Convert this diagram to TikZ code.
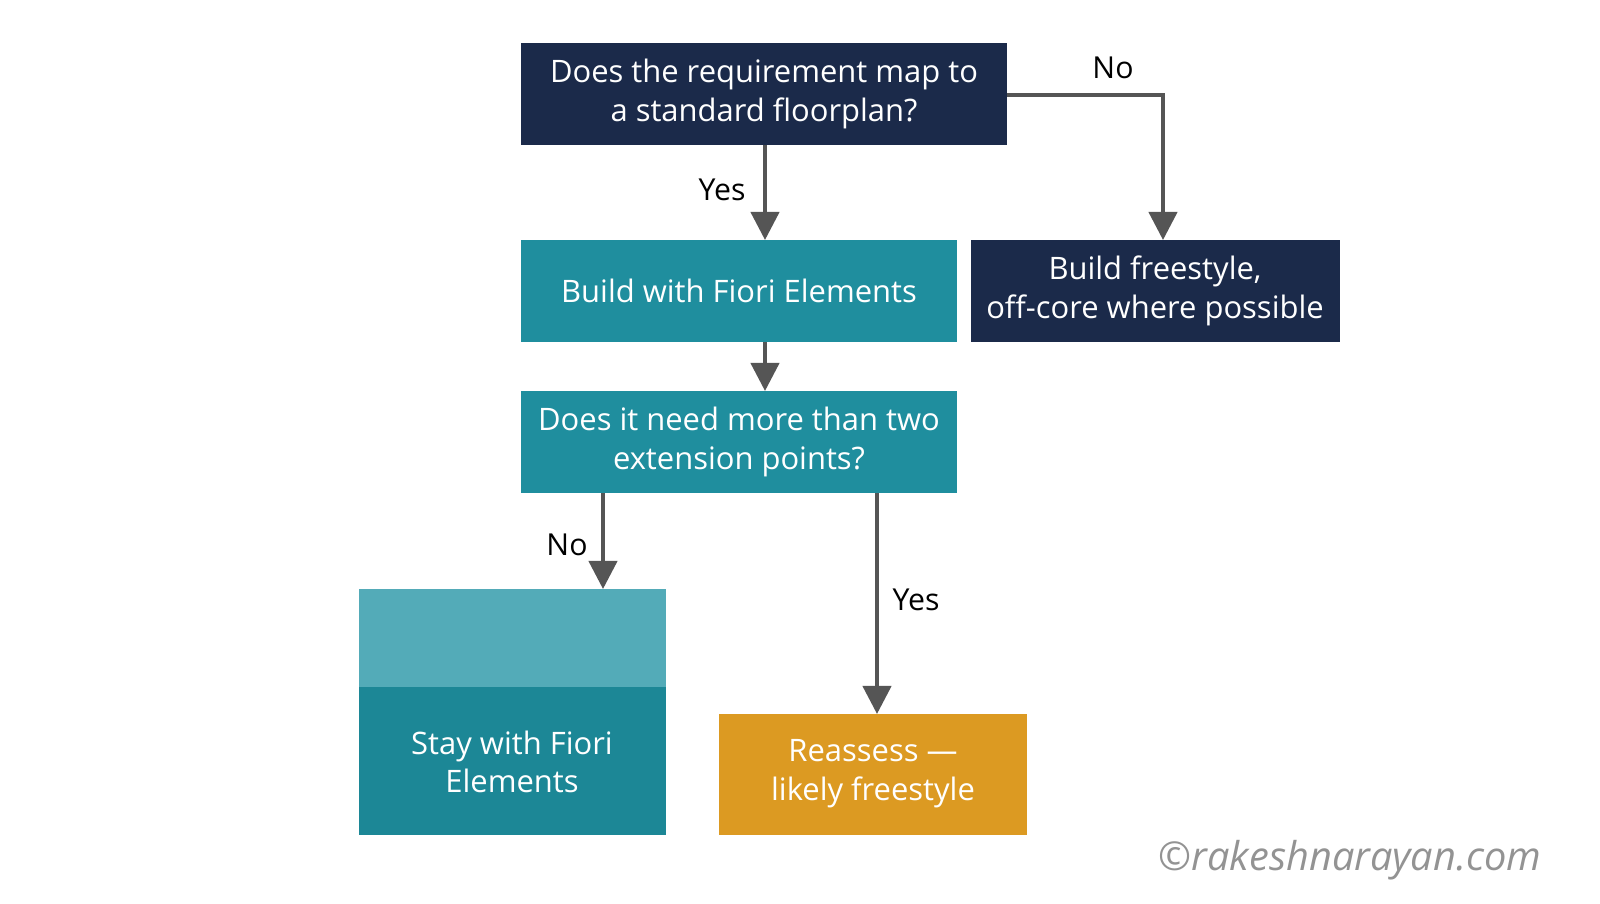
\documentclass[tikz,border=0pt]{standalone}
\usepackage{fontspec}
\setmainfont{Open Sans}
\usetikzlibrary{arrows.meta}
\definecolor{navy}{HTML}{1B2A4A}
\definecolor{teal}{HTML}{1F8E9E}
\definecolor{teallight}{HTML}{53ABB8}
\definecolor{tealdark}{HTML}{1C8796}
\definecolor{orng}{HTML}{DC9A22}
\definecolor{arr}{HTML}{555555}
\begin{document}
\begin{tikzpicture}[x=0.01cm,y=-0.01cm,
  box/.style={draw=none,inner sep=0,align=center,text=white,font=\fontsize{8.8}{11}\selectfont},
  conn/.style={draw=arr,line width=1.2pt,-{Triangle[length=8pt,width=8pt]}},
  lab/.style={font=\fontsize{8.6}{11}\selectfont,text=black}]
\useasboundingbox (0,0) rectangle (1600,903);
\fill[white] (0,0) rectangle (1600,903);
\fill[navy] (521,43) rectangle (1007,145);
\node[box] (q1) at (764,94) {Does the requirement map to\\a standard floorplan?};
\fill[teal] (521,240) rectangle (957,342);
\node[box] (fe) at (739,291) {Build with Fiori Elements};
\fill[navy] (971,240) rectangle (1340,342);
\node[box] (fs) at (1155,291) {Build freestyle,\\off-core where possible};
\fill[teal] (521,391) rectangle (957,493);
\node[box] (q2) at (739,442) {Does it need more than two\\extension points?};
\fill[teallight] (359,589) rectangle (666,687);
\fill[tealdark] (359,687) rectangle (666,835);
\node[box] (st) at (512,762) {Stay with Fiori\\Elements};
\fill[orng] (719,714) rectangle (1027,835);
\node[box] (re) at (873,774) {Reassess —\\likely freestyle};
\coordinate (q1b) at (765,145); \coordinate (feT) at (765,240);
\coordinate (q1r) at (1007,95); \coordinate (c1) at (1163,95); \coordinate (fsT) at (1163,240);
\coordinate (feb) at (765,342); \coordinate (q2T) at (765,391);
\coordinate (q2a) at (603,493); \coordinate (stT) at (603,589);
\coordinate (q2b) at (877,493); \coordinate (reT) at (877,714);
\draw[conn] (q1b) -- (feT);
\draw[conn] (q1r) -- (c1) -- (fsT);
\draw[conn] (feb) -- (q2T);
\draw[conn] (q2a) -- (stT);
\draw[conn] (q2b) -- (reT);
\node[lab] (y1) at (722,190) {Yes};
\node[lab] (n1) at (1113,68) {No};
\node[lab] (n2) at (567,545) {No};
\node[lab] (y2) at (916,600) {Yes};
\node[text=gray!85,font=\fontsize{11.3}{12}\selectfont\itshape] (wm) at (1350,860) {©rakeshnarayan.com};
\end{tikzpicture}
\end{document}
